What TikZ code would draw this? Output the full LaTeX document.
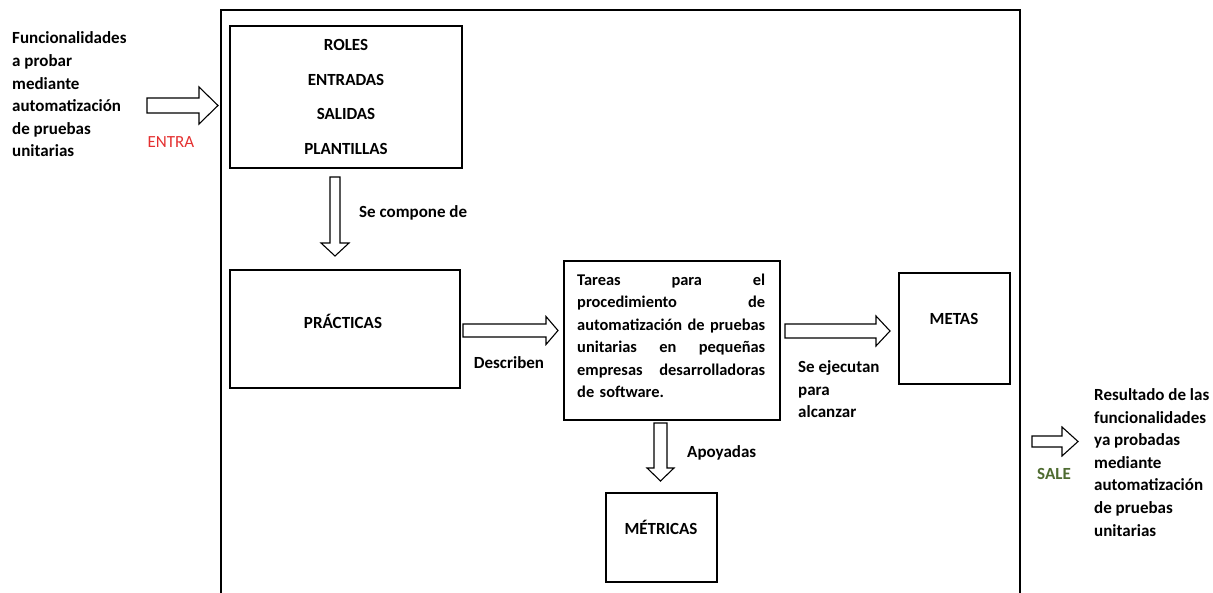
\documentclass[tikz,border=0pt]{standalone}
\usepackage{fontspec}
\setmainfont{Carlito}
\usetikzlibrary{calc}
\definecolor{entrared}{RGB}{228,48,48}
\definecolor{salegreen}{RGB}{78,107,48}
% hollow block arrow: start, tip, half shaft width, half head width, head length
\newcommand{\blockarrow}[5]{%
\path ($(#2)!#5!(#1)$) coordinate (ah);
\draw[blockarrow] ($(#1)!#3!90:(#2)$) -- ($(ah)!#3!-90:(#1)$) -- ($(ah)!#4!-90:(#1)$) -- (#2)
 -- ($(ah)!#4!90:(#1)$) -- ($(ah)!#3!90:(#1)$) -- ($(#1)!#3!-90:(#2)$) -- cycle;}
\newcommand{\jline}[1]{\makebox[188pt][l]{#1}}
\begin{document}
\begin{tikzpicture}[x=1pt,y=-1pt,font=\bfseries\fontsize{17}{22.6}\selectfont,
box/.style={draw=black, line width=1.2pt, inner sep=0pt},
txt/.style={inner sep=0pt},
blockarrow/.style={draw=black, line width=1.1pt, fill=white, line join=miter}]
\useasboundingbox (0,0) rectangle (1213,593);
% frame, open at the bottom
\draw[line width=1.5pt] (221,594)--(221,10)--(1020,10)--(1020,594);
% boxes
\node[box, minimum width=232pt, minimum height=142pt, align=center, font=\bfseries\fontsize{17}{34.7}\selectfont](roles) at (346,97){ROLES\\ENTRADAS\\SALIDAS\\PLANTILLAS};
\node[box, minimum width=230pt, minimum height=118pt](prac) at (345,329){};
\node[box, minimum width=216pt, minimum height=159pt](tareas) at (672,340.5){};
\node[box, minimum width=111pt, minimum height=111pt](metas) at (954.5,328.5){};
\node[box, minimum width=111pt, minimum height=89pt](metr) at (661.5,537.5){};
\node[txt, anchor=base](practxt) at (343,328.5){PRÁCTICAS};
\node[txt, anchor=base](metastxt) at (954,324.5){METAS};
\node[txt, anchor=base](metrtxt) at (661,534.5){MÉTRICAS};
\node[txt, anchor=base west, text width=188pt, align=left, font=\bfseries\fontsize{16.4}{22.4}\selectfont](tareastxt) at (577,285.5){\jline{Tareas\hfill para\hfill el}\\\jline{procedimiento\hfill de}\\\jline{automatización\hfill de\hfill pruebas}\\\jline{unitarias\hfill en\hfill pequeñas}\\\jline{empresas\hfill desarrolladoras}\\de software.};
% texts outside the boxes, base is the last line
\node[txt, anchor=base west, align=left](fin) at (12,157){Funcionalidades\\a probar\\mediante\\automatización\\de pruebas\\unitarias};
\node[txt, anchor=base, text=entrared, font=\fontsize{17}{22.6}\selectfont](entra) at (171,147.5){ENTRA};
\node[txt, anchor=base west](comp) at (359,217.5){Se compone de};
\node[txt, anchor=base](desc) at (509,368.5){Describen};
\node[txt, anchor=base west, align=left](ejec) at (798,417.7){Se ejecutan\\para\\alcanzar};
\node[txt, anchor=base west](apoy) at (687,457.5){Apoyadas};
\node[txt, anchor=base, text=salegreen](sale) at (1054,479.5){SALE};
\node[txt, anchor=base west, align=left](fout) at (1094,536){Resultado de las\\funcionalidades\\ya probadas\\mediante\\automatización\\de pruebas\\unitarias};
% block arrows
\coordinate (e1) at (147,105.5); \coordinate (e2) at (218,105.5);
\coordinate (c1) at (335,177); \coordinate (c2) at (335,256);
\coordinate (d1) at (463,330.5); \coordinate (d2) at (558,330.5);
\coordinate (j1) at (785,331); \coordinate (j2) at (890,331);
\coordinate (a1) at (660.5,423); \coordinate (a2) at (660.5,481);
\coordinate (s1) at (1032,441.5); \coordinate (s2) at (1078,441.5);
\blockarrow{e1}{e2}{7.5pt}{18.5pt}{19pt}
\blockarrow{c1}{c2}{5pt}{14pt}{13pt}
\blockarrow{d1}{d2}{6.5pt}{14pt}{12pt}
\blockarrow{j1}{j2}{7pt}{15pt}{14pt}
\blockarrow{a1}{a2}{6.5pt}{13.5pt}{13pt}
\blockarrow{s1}{s2}{5.5pt}{14.5pt}{16pt}
\end{tikzpicture}
\end{document}
